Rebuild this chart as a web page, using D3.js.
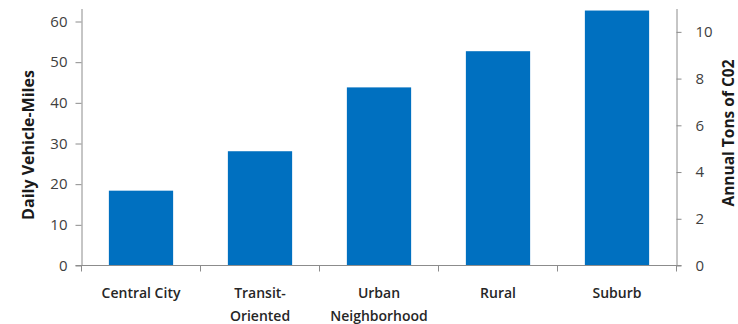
<!DOCTYPE html>
<html>
<head>
<meta charset="utf-8">
<script src="https://cdn.jsdelivr.net/npm/d3@7"></script>
<style>
  body { margin: 0; background: #fff; }
  svg text { font-family: "Open Sans", "Liberation Sans", sans-serif; }
</style>
</head>
<body>
<div id="chart"></div>
<script>
const categories = ["Central City", "Transit-Oriented", "Urban Neighborhood", "Rural", "Suburb"];
const categoryLines = [["Central City"], ["Transit-", "Oriented"], ["Urban", "Neighborhood"], ["Rural"], ["Suburb"]];
const milesValues = [18.4, 28.1, 43.8, 52.7, 62.7];
const leftTicks = [0, 10, 20, 30, 40, 50, 60];
const rightTicks = [0, 2, 4, 6, 8, 10];

const width = 738;
const height = 324;
const margin = { left: 81.5, right: 61.5, top: 8.5, bottom: 58.5 };

const svg = d3.select("#chart")
    .append("svg")
    .attr("width", width)
    .attr("height", height);

const x = d3.scaleBand()
    .domain(categories)
    .range([margin.left, width - margin.right])
    .paddingInner(0.46)
    .paddingOuter(0.23);

const y = d3.scaleLinear()
    .domain([0, 63.2])
    .range([height - margin.bottom, margin.top]);

const y2 = d3.scaleLinear()
    .domain([0, 11])
    .range([height - margin.bottom, margin.top]);

const axisColor = "#8c8c8c";
const tickColor = "#404040";

// bars
svg.append("g")
    .selectAll("rect")
    .data(milesValues)
    .enter()
    .append("rect")
    .attr("x", (d, i) => x(categories[i]))
    .attr("y", d => y(d))
    .attr("width", x.bandwidth())
    .attr("height", d => y(0) - y(d))
    .attr("fill", "#0070c0");

// left axis
const leftAxis = svg.append("g")
    .attr("transform", `translate(${margin.left},0)`)
    .call(d3.axisLeft(y).tickValues(leftTicks).tickSize(6).tickPadding(8).tickSizeOuter(0));

// right axis
const rightAxis = svg.append("g")
    .attr("transform", `translate(${width - margin.right},0)`)
    .call(d3.axisRight(y2).tickValues(rightTicks).tickSize(5).tickPadding(14).tickSizeOuter(0));

// bottom axis with ticks at category boundaries
const boundaries = d3.range(categories.length + 1).map(i => margin.left + i * (width - margin.left - margin.right) / categories.length);
const bottom = svg.append("g");
bottom.append("line")
    .attr("x1", margin.left - 6)
    .attr("x2", width - margin.right + 5)
    .attr("y1", y(0))
    .attr("y2", y(0))
    .attr("stroke", axisColor);
bottom.selectAll("line.tick")
    .data(boundaries)
    .enter()
    .append("line")
    .attr("class", "tick")
    .attr("x1", d => d)
    .attr("x2", d => d)
    .attr("y1", y(0))
    .attr("y2", y(0) + 6)
    .attr("stroke", axisColor);

bottom.selectAll("text")
    .data(categoryLines)
    .enter()
    .append("text")
    .attr("x", (d, i) => x(categories[i]) + x.bandwidth() / 2)
    .attr("y", y(0) + 32)
    .attr("text-anchor", "middle")
    .attr("font-size", 14)
    .attr("font-weight", 600)
    .attr("fill", "#262626")
    .each(function(d) {
        const t = d3.select(this);
        d.forEach((line, j) => {
            t.append("tspan")
                .attr("x", t.attr("x"))
                .attr("dy", j === 0 ? 0 : 23)
                .text(line);
        });
    });

[leftAxis, rightAxis].forEach(g => {
    g.select(".domain").attr("stroke", axisColor);
    g.selectAll(".tick line").attr("stroke", axisColor);
    g.selectAll(".tick text")
        .attr("font-size", 15)
        .attr("fill", tickColor);
});

// axis titles
svg.append("text")
    .attr("transform", `translate(34,${(margin.top + y(0)) / 2 + 8}) rotate(-90)`)
    .attr("text-anchor", "middle")
    .attr("font-size", 16)
    .attr("font-weight", 700)
    .attr("fill", "#1a1a1a")
    .text("Daily Vehicle-Miles");

svg.append("text")
    .attr("transform", `translate(734,${(margin.top + y(0)) / 2 - 4}) rotate(-90)`)
    .attr("text-anchor", "middle")
    .attr("font-size", 15.5)
    .attr("font-weight", 700)
    .attr("fill", "#1a1a1a")
    .text("Annual Tons of C02");
</script>
</body>
</html>
